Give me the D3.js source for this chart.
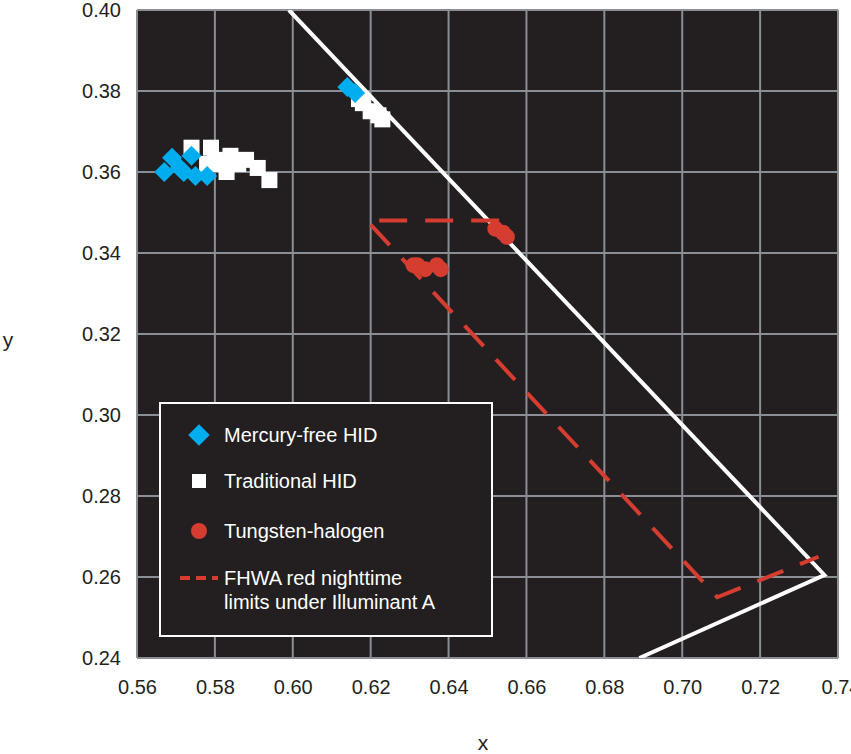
<!DOCTYPE html><html><head><meta charset="utf-8"><script src="https://cdn.jsdelivr.net/npm/d3@7"></script>
<style>body{margin:0;background:#fff}</style></head><body><svg id="c" width="851" height="754"></svg>
<script>
const xTicks=[0.56,0.58,0.60,0.62,0.64,0.66,0.68,0.70,0.72,0.74];
const yTicks=[0.24,0.26,0.28,0.30,0.32,0.34,0.36,0.38,0.40];
const mercury=[[0.567,0.360],[0.569,0.3635],[0.571,0.361],[0.572,0.360],[0.574,0.364],[0.575,0.359],[0.578,0.359],[0.614,0.381],[0.616,0.3795]];
const traditional=[[0.574,0.366],[0.579,0.366],[0.578,0.362],[0.580,0.363],[0.582,0.362],[0.584,0.364],[0.586,0.362],[0.583,0.360],[0.588,0.363],[0.591,0.361],[0.594,0.358],[0.617,0.378],[0.618,0.377],[0.620,0.375],[0.622,0.374],[0.623,0.373]];
const tungsten=[[0.652,0.346],[0.654,0.345],[0.655,0.344],[0.631,0.337],[0.632,0.337],[0.634,0.336],[0.637,0.337],[0.638,0.336]];
const locus=[[0.599,0.40],[0.7365,0.2605],[0.689,0.24]];
const fhwa=[[0.653,0.348],[0.619,0.348],[0.709,0.255],[0.735,0.265]];
const svg=d3.select("#c");
const L=137,R=838,T=10,B=658;
const x=d3.scaleLinear().domain([0.56,0.74]).range([L,R]);
const y=d3.scaleLinear().domain([0.24,0.40]).range([B,T]);
svg.append("defs").append("clipPath").attr("id","cp").append("rect").attr("x",L).attr("y",T).attr("width",R-L).attr("height",B-T);
svg.append("rect").attr("x",L).attr("y",T).attr("width",R-L).attr("height",B-T).attr("fill","#231f20");
const g=svg.append("g");
g.selectAll(".gx").data(xTicks).join("line").attr("x1",d=>x(d)).attr("x2",d=>x(d)).attr("y1",T).attr("y2",B).attr("stroke","#8b8e94").attr("stroke-width",2);
g.selectAll(".gy").data(yTicks).join("line").attr("y1",d=>y(d)).attr("y2",d=>y(d)).attr("x1",L).attr("x2",R).attr("stroke","#8b8e94").attr("stroke-width",2);
const ax=svg.append("g").attr("transform",`translate(0,${B})`).call(d3.axisBottom(x).tickValues(xTicks).tickFormat(d3.format(".2f")).tickSize(0).tickPadding(22));
const ay=svg.append("g").attr("transform",`translate(${L},0)`).call(d3.axisLeft(y).tickValues(yTicks).tickFormat(d3.format(".2f")).tickSize(0).tickPadding(16));
[ax,ay].forEach(a=>{a.select(".domain").remove();a.selectAll("text").attr("font-family","Liberation Sans, Arial").attr("font-size",20).attr("fill","#231f20");});
ax.selectAll(".tick").filter(d=>d===0.74).select("text").attr("text-anchor","end").attr("dx",22);
const pl=svg.append("g").attr("clip-path","url(#cp)");
const line=d3.line().x(d=>x(d[0])).y(d=>y(d[1]));
pl.append("path").attr("d",line(locus)).attr("fill","none").attr("stroke","#fff").attr("stroke-width",4);
pl.append("path").attr("d",line(fhwa)).attr("fill","none").attr("stroke","#d43d2f").attr("stroke-width",4).attr("stroke-dasharray","28,18");
pl.selectAll(".sq").data(traditional).join("rect").attr("x",d=>x(d[0])-8).attr("y",d=>y(d[1])-8).attr("width",16).attr("height",16).attr("fill","#fff");
pl.selectAll(".dm").data(mercury).join("path").attr("d",d3.symbol(d3.symbolSquare,200)).attr("transform",d=>`translate(${x(d[0])},${y(d[1])}) rotate(45)`).attr("fill","#00aeef");
pl.selectAll(".ci").data(tungsten).join("circle").attr("cx",d=>x(d[0])).attr("cy",d=>y(d[1])).attr("r",8).attr("fill","#d43d2f");
const lg=svg.append("g");
lg.append("rect").attr("x",160).attr("y",403).attr("width",332).attr("height",233).attr("fill","#231f20").attr("stroke","#fff").attr("stroke-width",2);
const lt=(t,yy)=>lg.append("text").attr("x",224).attr("y",yy).text(t).attr("fill","#fff").attr("font-family","Liberation Sans, Arial").attr("font-size",20);
lg.append("path").attr("d",d3.symbol(d3.symbolSquare,230)).attr("transform","translate(199,435) rotate(45)").attr("fill","#00aeef");
lt("Mercury-free HID",442);
lg.append("rect").attr("x",192).attr("y",474).attr("width",14).attr("height",14).attr("fill","#fff");
lt("Traditional HID",488);
lg.append("circle").attr("cx",199).attr("cy",531).attr("r",8).attr("fill","#d43d2f");
lt("Tungsten-halogen",538);
lg.append("line").attr("x1",180).attr("x2",218).attr("y1",578).attr("y2",578).attr("stroke","#d43d2f").attr("stroke-width",4).attr("stroke-dasharray","10,6");
lt("FHWA red nighttime",585);
lt("limits under Illuminant A",609);
svg.append("text").attr("x",8).attr("y",347).text("y").attr("font-family","Liberation Sans, Arial").attr("font-size",21).attr("fill","#231f20").attr("text-anchor","middle");
svg.append("text").attr("x",483).attr("y",750).text("x").attr("font-family","Liberation Sans, Arial").attr("font-size",21).attr("fill","#231f20").attr("text-anchor","middle");
</script></body></html>
